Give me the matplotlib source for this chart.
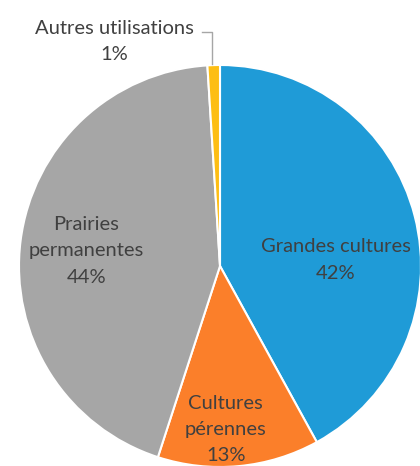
import matplotlib.pyplot as plt

labels = ["Grandes cultures", "Cultures\npérennes", "Prairies\npermanentes", "Autres utilisations"]
shares = [42, 13, 44, 1]
colors = ["#1F9BD7", "#FB7F2A", "#A6A6A6", "#FDBE14"]

# label centres (data units, pie radius = 1)
label_pos = [(0.577, 0.03), (0.028, -0.815), (-0.665, 0.075), (-0.525, 1.115)]

plt.rcParams["font.family"] = ["Lato", "DejaVu Sans"]

fig = plt.figure(figsize=(4.2, 4.66), dpi=100)
ax = fig.add_axes([0, 0, 1, 1])

ax.pie(shares, colors=colors, startangle=90, counterclock=False,
       radius=1, wedgeprops=dict(edgecolor="white", linewidth=1.5))

for lab, val, (x, y) in zip(labels, shares, label_pos):
    ax.text(x, y, f"{lab}\n{val}%", ha="center", va="center",
            fontsize=14.5, color="#404040", linespacing=1.65)

# leader line for the small slice
ax.plot([-0.09, -0.04, -0.04], [1.165, 1.165, 1.005], color="#A6A6A6", lw=1)

ax.set_xlim(-220 / 201, 200 / 201)
ax.set_ylim(-200 / 201, 266 / 201)
ax.set_aspect("auto")
ax.axis("off")

fig.savefig("out.png", dpi=100)
